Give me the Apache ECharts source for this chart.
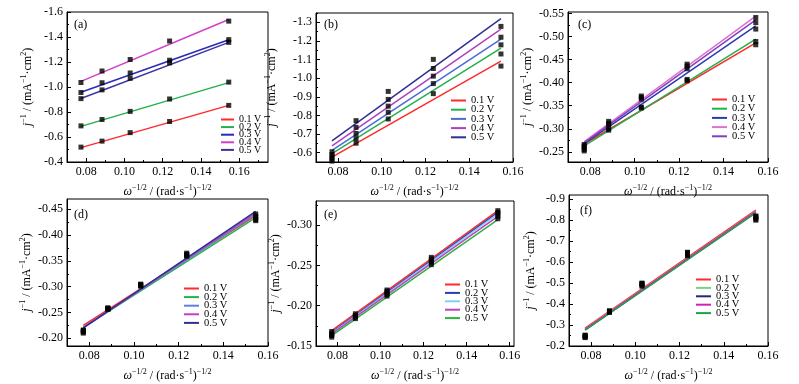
<!DOCTYPE html>
<html><head><meta charset="utf-8">
<script src="https://cdn.jsdelivr.net/npm/echarts@6/dist/echarts.min.js"></script>
<style>html,body{margin:0;padding:0;background:#fff}#c{width:799px;height:384px}</style>
</head><body><div id="c"></div>
<script>
// ---- data ----
const xVals = [0.0773, 0.0883, 0.1030, 0.1236, 0.1545];
const fitX = [0.0773, 0.1545];
const voltages = ['0.1 V', '0.2 V', '0.3 V', '0.4 V', '0.5 V'];
const xTicks = [0.08, 0.10, 0.12, 0.14, 0.16];

const pointsA = [
  [-0.519, -0.567, -0.635, -0.724, -0.853],
  [-0.689, -0.740, -0.805, -0.904, -1.039],
  [-0.956, -1.034, -1.112, -1.214, -1.379],
  [-1.036, -1.128, -1.220, -1.368, -1.527],
  [-0.907, -0.977, -1.069, -1.193, -1.357]
];
const fitA = [[-0.515, -0.853], [-0.685, -1.035], [-0.958, -1.378], [-1.045, -1.540], [-0.908, -1.357]];

const pointsB = [
  [-0.555, -0.651, -0.781, -0.917, -1.065],
  [-0.566, -0.676, -0.817, -0.971, -1.130],
  [-0.578, -0.703, -0.850, -1.011, -1.179],
  [-0.590, -0.736, -0.886, -1.052, -1.220],
  [-0.605, -0.772, -0.929, -1.101, -1.278]
];
const fitB = [[-0.576, -1.092], [-0.595, -1.161], [-0.613, -1.210], [-0.636, -1.264], [-0.663, -1.320]];

const pointsC = [
  [-0.252, -0.297, -0.345, -0.404, -0.482],
  [-0.255, -0.300, -0.347, -0.407, -0.489],
  [-0.260, -0.309, -0.364, -0.430, -0.516],
  [-0.266, -0.316, -0.371, -0.440, -0.541],
  [-0.263, -0.312, -0.368, -0.436, -0.530]
];
const fitC = [[-0.267, -0.486], [-0.263, -0.494], [-0.268, -0.523], [-0.272, -0.544], [-0.270, -0.536]];

const pointsD = [
  [-0.213, -0.257, -0.302, -0.360, -0.430],
  [-0.210, -0.256, -0.301, -0.359, -0.428],
  [-0.215, -0.258, -0.304, -0.362, -0.434],
  [-0.212, -0.257, -0.303, -0.363, -0.437],
  [-0.216, -0.259, -0.305, -0.365, -0.441]
];
const fitD = [[-0.225, -0.438], [-0.221, -0.434], [-0.220, -0.440], [-0.221, -0.443], [-0.220, -0.446]];

const pointsE = [
  [-0.168, -0.190, -0.2195, -0.260, -0.318],
  [-0.166, -0.188, -0.218, -0.258, -0.316],
  [-0.164, -0.187, -0.216, -0.256, -0.314],
  [-0.163, -0.186, -0.214, -0.254, -0.311],
  [-0.161, -0.184, -0.212, -0.251, -0.308]
];
const fitE = [[-0.169, -0.318], [-0.167, -0.316], [-0.166, -0.314], [-0.165, -0.311], [-0.163, -0.307]];

const pointsF = [
  [-0.240, -0.360, -0.485, -0.630, -0.800],
  [-0.245, -0.362, -0.490, -0.635, -0.805],
  [-0.250, -0.366, -0.495, -0.640, -0.812],
  [-0.243, -0.364, -0.498, -0.645, -0.817],
  [-0.252, -0.368, -0.500, -0.647, -0.820]
];
const fitF = [[-0.285, -0.848], [-0.280, -0.842], [-0.277, -0.838], [-0.279, -0.840], [-0.276, -0.835]];

const yTicksA = [-1.6, -1.4, -1.2, -1.0, -0.8, -0.6, -0.4];
const yTicksB = [-1.3, -1.2, -1.1, -1.0, -0.9, -0.8, -0.7, -0.6];
const yTicksC = [-0.55, -0.50, -0.45, -0.40, -0.35, -0.30, -0.25];
const yTicksD = [-0.45, -0.40, -0.35, -0.30, -0.25, -0.20];
const yTicksE = [-0.30, -0.25, -0.20, -0.15];
const yTicksF = [-0.9, -0.8, -0.7, -0.6, -0.5, -0.4, -0.3, -0.2];

// ---- styles / layout ----
const FONT = "'Liberation Serif', 'Times New Roman', serif";
const colorsA = ['#ff2a2a', '#22b14c', '#2a2ab8', '#d040c8', '#3a35a0'];
const colorsB = ['#ff2a2a', '#22b14c', '#4a6ad8', '#b040c0', '#303090'];
const colorsC = ['#ff2a2a', '#22b14c', '#2a3ab0', '#e070d0', '#8040c0'];
const colorsD = ['#ff2a2a', '#22b14c', '#6080e0', '#c040c0', '#303090'];
const colorsE = ['#ff2a2a', '#2a3ab0', '#80d0f0', '#c040c0', '#30b040'];
const colorsF = ['#ff2a2a', '#80d080', '#202880', '#d020c0', '#20a050'];

const panels = [
  {key: 'a', grid: {left: 67, top: 12, width: 201, height: 150}, xr: [0.07, 0.175], yr: [-1.6, -0.4], yt: yTicksA, yd: 1, pts: pointsA, fit: fitA, col: colorsA, lg: {left: 221, top: 114, lh: 7.6, iw: 13, fs: 10}, lab: [74, 19], yGap: 32},
  {key: 'b', grid: {left: 316, top: 13, width: 197, height: 149}, xr: [0.07, 0.16], yr: [-1.35, -0.55], yt: yTicksB, yd: 1, pts: pointsB, fit: fitB, col: colorsB, lg: {left: 451, top: 95, lh: 9.2, iw: 15, fs: 10.5}, lab: [324, 19], yGap: 37},
  {key: 'c', grid: {left: 568, top: 12, width: 200, height: 150}, xr: [0.07, 0.16], yr: [-0.553, -0.228], yt: yTicksC, yd: 2, pts: pointsC, fit: fitC, col: colorsC, lg: {left: 712, top: 94, lh: 9.2, iw: 15, fs: 10.5}, lab: [578, 19], yGap: 33},
  {key: 'd', grid: {left: 67, top: 199, width: 201, height: 152}, xr: [0.07, 0.16], yr: [-0.47, -0.185], yt: yTicksD, yd: 2, pts: pointsD, fit: fitD, col: colorsD, lg: {left: 184, top: 283, lh: 8.6, iw: 15, fs: 10.5}, lab: [74, 209], yGap: 32},
  {key: 'e', grid: {left: 316, top: 201, width: 198, height: 146}, xr: [0.07, 0.162], yr: [-0.33, -0.15], yt: yTicksE, yd: 2, pts: pointsE, fit: fitE, col: colorsE, lg: {left: 445, top: 279, lh: 8.4, iw: 15, fs: 10.5}, lab: [324, 209], yGap: 31},
  {key: 'f', grid: {left: 569, top: 195, width: 199, height: 153}, xr: [0.07, 0.16], yr: [-0.92, -0.2], yt: yTicksF, yd: 1, pts: pointsF, fit: fitF, col: colorsF, lg: {left: 696, top: 274, lh: 8.4, iw: 15, fs: 10.5}, lab: [580, 205], yGap: 31}
];

function minors(ticks, lo, hi) {
  const step = Math.abs(ticks[1] - ticks[0]);
  const out = [];
  const start = Math.min(...ticks) - step / 2;
  for (let v = start; v <= hi + 1e-9; v += step) {
    if (v >= lo - 1e-9) out.push(+v.toFixed(5));
  }
  return out;
}

const rich = {
  i: {fontStyle: 'italic', fontSize: 12, fontFamily: FONT, color: '#000'},
  s: {fontSize: 8, fontFamily: FONT, color: '#000', verticalAlign: 'top', lineHeight: 10},
  n: {fontSize: 12, fontFamily: FONT, color: '#000'}
};
const yName = '{i|j}{s|\u22121}{n| / (mA}{s|\u22121}{n|\u00b7cm}{s|2}{n|)}';
const xName = '{i|\u03c9}{s|\u22121/2}{n| / (rad\u00b7s}{s|\u22121}{n|)}{s|\u22121/2}';

const option = {
  backgroundColor: '#fff',
  animation: false,
  grid: [], xAxis: [], yAxis: [], series: [], legend: [], title: []
};

const LEG_TEXT_H = 11;

panels.forEach((p, i) => {
  option.grid.push(Object.assign({show: true, borderColor: '#000', borderWidth: 1, backgroundColor: 'transparent'}, p.grid));
  const axCommon = {axisLine: {show: true, lineStyle: {color: '#000', width: 1}}, splitLine: {show: false}};
  option.xAxis.push(Object.assign({
    type: 'value', gridIndex: i, position: 'bottom', min: p.xr[0], max: p.xr[1],
    axisTick: {inside: true, length: 4, customValues: xTicks, lineStyle: {color: '#000'}},
    axisLabel: {customValues: xTicks, formatter: v => v.toFixed(2), color: '#000', fontSize: 12, fontFamily: FONT, margin: 4},
    name: xName, nameLocation: 'middle', nameGap: 22,
    nameTextStyle: {fontSize: 12, fontFamily: FONT, color: '#000', lineHeight: 15, rich: rich}
  }, axCommon));
  option.xAxis.push({
    type: 'value', gridIndex: i, position: 'bottom', min: p.xr[0], max: p.xr[1],
    axisLine: {show: false}, splitLine: {show: false}, axisLabel: {show: false},
    axisTick: {inside: true, length: 2, customValues: minors(xTicks, p.xr[0], p.xr[1]), lineStyle: {color: '#000'}}
  });
  option.yAxis.push(Object.assign({
    type: 'value', gridIndex: i, position: 'left', min: p.yr[0], max: p.yr[1], inverse: true,
    axisTick: {inside: true, length: 4, customValues: p.yt, lineStyle: {color: '#000'}},
    axisLabel: {customValues: p.yt, formatter: v => v.toFixed(p.yd), color: '#000', fontSize: 12, fontFamily: FONT, margin: 4},
    name: yName, nameLocation: 'middle', nameGap: p.yGap, nameRotate: 90,
    nameTextStyle: {fontSize: 12, fontFamily: FONT, color: '#000', lineHeight: 15, rich: rich}
  }, axCommon));
  option.yAxis.push({
    type: 'value', gridIndex: i, position: 'left', min: p.yr[0], max: p.yr[1], inverse: true,
    axisLine: {show: false}, splitLine: {show: false}, axisLabel: {show: false},
    axisTick: {inside: true, length: 2, customValues: minors(p.yt, p.yr[0], p.yr[1]), lineStyle: {color: '#000'}}
  });
  voltages.forEach((v, k) => {
    option.series.push({
      type: 'line', name: p.key + '|' + v, xAxisIndex: 2 * i, yAxisIndex: 2 * i,
      data: fitX.map((x, j) => [x, p.fit[k][j]]),
      symbol: 'none', showSymbol: false, silent: true, z: 2,
      lineStyle: {color: p.col[k], width: 1.5}, itemStyle: {color: p.col[k]}
    });
  });
  voltages.forEach((v, k) => {
    option.series.push({
      type: 'scatter', name: 'pts' + p.key + k, xAxisIndex: 2 * i, yAxisIndex: 2 * i,
      data: xVals.map((x, j) => [x, p.pts[k][j]]),
      symbol: 'rect', symbolSize: 5, itemStyle: {color: '#000'}, z: 3, silent: true
    });
  });
  option.legend.push({
    data: voltages.map(v => p.key + '|' + v), orient: 'vertical',
    left: p.lg.left, top: p.lg.top, itemWidth: p.lg.iw, itemHeight: 2, icon: 'rect',
    itemGap: p.lg.lh - LEG_TEXT_H, selectedMode: false, padding: 0, z: 10,
    formatter: n => n.split('|')[1],
    textStyle: {fontSize: p.lg.fs, fontFamily: FONT, color: '#000', lineHeight: LEG_TEXT_H}
  });
  option.title.push({
    text: '(' + p.key + ')', left: p.lab[0], top: p.lab[1], padding: 0,
    textStyle: {fontSize: 12, fontWeight: 'normal', fontFamily: FONT, color: '#000'}
  });
});

const chart = echarts.init(document.getElementById('c'), null, {renderer: 'canvas'});
chart.setOption(option);
</script>
</body></html>
